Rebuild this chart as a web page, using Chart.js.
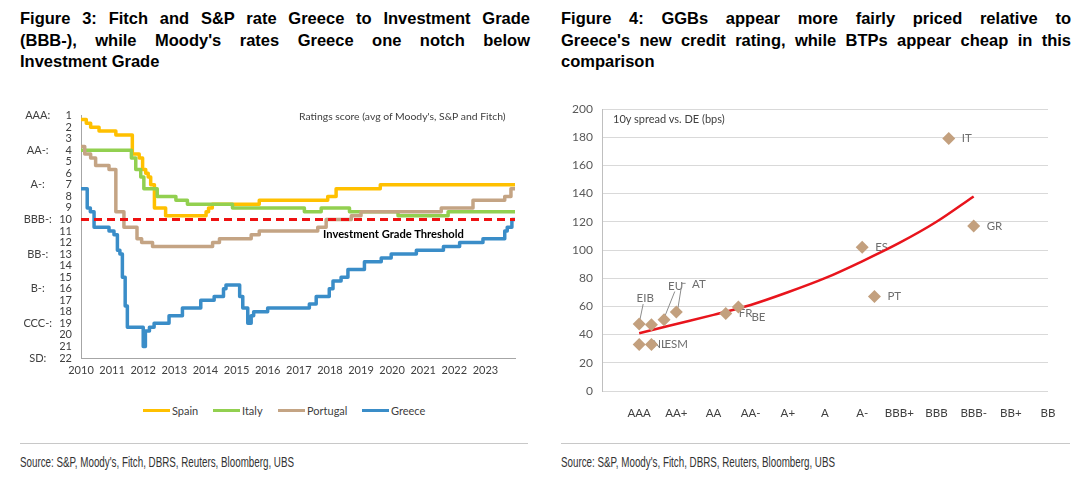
<!DOCTYPE html>
<html><head><meta charset="utf-8">
<script src="https://cdn.jsdelivr.net/npm/chart.js@4.4.0/dist/chart.umd.min.js"></script>
<style>
html,body{margin:0;padding:0;background:#fff;}
#page{position:relative;width:1089px;height:480px;overflow:hidden;font-family:Lato,"Liberation Sans",sans-serif;color:#404040;}
.title{position:absolute;top:8px;width:510px;font-family:"Liberation Sans",Arial,sans-serif;font-weight:bold;font-size:16.5px;line-height:21.5px;color:#000;}
.title .j{text-align:justify;text-align-last:justify;}
.abs{position:absolute;white-space:nowrap;}
.sep{position:absolute;top:443px;height:1px;background:#c8c8c8;}
.src{position:absolute;top:453px;font-family:"Liberation Sans",Arial,sans-serif;font-size:14px;line-height:18px;color:#333;white-space:nowrap;transform:scaleX(0.7);transform-origin:0 0;}
.sw{position:absolute;top:409px;width:27px;height:3px;}
.lt{position:absolute;top:403px;font-size:11px;line-height:15px;color:#404040;}
canvas{position:absolute;}
</style></head>
<body><div id="page">
<div class="title" style="left:20px">
<div class="j">Figure 3: Fitch and S&amp;P rate Greece to Investment Grade</div>
<div class="j">(BBB-), while Moody's rates Greece one notch below</div>
<div>Investment Grade</div>
</div>
<div class="title" style="left:561px">
<div class="j">Figure 4: GGBs appear more fairly priced relative to</div>
<div class="j">Greece's new credit rating, while BTPs appear cheap in this</div>
<div>comparison</div>
</div>

<canvas id="c1" width="545" height="300" style="left:0;top:100px"></canvas>
<canvas id="c2" width="544" height="340" style="left:545px;top:90px"></canvas>

<div class="abs" style="left:299px;top:109px;font-size:10.4px;line-height:14px;color:#404040">Ratings score (avg of Moody's, S&amp;P and Fitch)</div>
<div class="abs" style="left:323px;top:227px;font-size:11.2px;line-height:14px;font-weight:bold;color:#000">Investment Grade Threshold</div>
<div class="abs" style="left:613px;top:112px;font-size:11px;line-height:14px;color:#404040">10y spread vs. DE (bps)</div>

<div class="sw" style="left:143px;background:#FFC000"></div><div class="lt" style="left:172px">Spain</div>
<div class="sw" style="left:213px;background:#92D050"></div><div class="lt" style="left:242px">Italy</div>
<div class="sw" style="left:278px;background:#C4A484"></div><div class="lt" style="left:307px">Portugal</div>
<div class="sw" style="left:362px;background:#3A8DC8"></div><div class="lt" style="left:391px">Greece</div>

<div class="sep" style="left:20px;width:508px"></div>
<div class="sep" style="left:561px;width:509px"></div>
<div class="src" style="left:20px">Source: S&amp;P, Moody's, Fitch, DBRS, Reuters, Bloomberg, UBS</div>
<div class="src" style="left:561px">Source: S&amp;P, Moody's, Fitch, DBRS, Reuters, Bloomberg, UBS</div>
</div>
<script>
// ---------- Figure 3 data (decimal year of change, average rating score) ----------
const yearTicks = [2010,2011,2012,2013,2014,2015,2016,2017,2018,2019,2020,2021,2022,2023];
const scoreLetters = {1:'AAA:',4:'AA-:',7:'A-:',10:'BBB-:',13:'BB-:',16:'B-:',19:'CCC-:',22:'SD:'};

const spainT = [2010.00,2010.17,2010.31,2010.58,2011.12,2011.65,2011.87,2011.98,2012.08,2012.16,2012.24,2012.36,2012.72,2014.02,2014.10,2014.22,2015.73,2017.93,2018.20,2019.62,2023.95];
const spainS = [1.33,1.67,2.00,2.33,2.67,4.33,4.67,5.67,6.00,6.33,7.00,9.00,9.67,9.33,9.00,8.67,8.33,8.00,7.33,7.00,7.00];

const italyT = [2010.00,2011.62,2011.76,2011.92,2012.02,2012.45,2013.05,2013.42,2014.87,2017.18,2017.72,2018.63,2020.19,2021.80,2023.95];
const italyS = [4.00,4.67,5.67,6.33,7.33,8.00,8.33,8.67,9.00,9.33,9.00,9.33,9.67,9.33,9.33];

const portugalT = [2010.00,2010.12,2010.31,2010.47,2010.90,2011.12,2011.38,2011.80,2011.95,2012.30,2014.23,2014.45,2015.47,2015.73,2017.61,2017.88,2018.69,2019.00,2021.58,2022.60,2023.62,2023.82,2023.95];
const portugalS = [3.67,4.33,4.67,5.33,5.67,9.33,10.67,11.67,12.00,12.33,12.00,11.67,11.33,11.00,10.67,10.00,9.67,9.33,9.00,8.33,8.00,7.33,7.33];

const greeceT = [2010.00,2010.20,2010.30,2010.42,2010.90,2011.06,2011.17,2011.25,2011.33,2011.42,2011.49,2012.00,2012.07,2012.20,2012.35,2012.83,2013.26,2013.85,2014.28,2014.58,2014.66,2015.10,2015.20,2015.36,2015.47,2015.55,2016.00,2017.34,2017.56,2017.98,2018.10,2018.36,2018.58,2019.11,2019.65,2019.97,2020.78,2021.65,2022.17,2022.92,2023.62,2023.70,2023.85,2023.95];
const greeceS = [7.33,9.00,9.33,10.67,11.00,11.33,12.67,13.00,15.00,17.50,19.33,21.00,19.67,19.33,19.00,18.33,17.67,17.00,16.67,16.00,15.67,16.67,17.67,19.00,18.33,18.00,17.67,17.33,16.67,16.00,15.33,15.00,14.33,13.67,13.33,13.00,12.67,12.33,12.00,11.67,11.00,10.67,10.00,10.00];

const thresholdT = [2010, 2023.95];
const thresholdS = [10, 10];

// ---------- Figure 4 data ----------
const ratingCats = ['AAA','AA+','AA','AA-','A+','A','A-','BBB+','BBB','BBB-','BB+','BB'];
const issuerNames  = ['EIB','','NL','ESM','EU','AT','FR','BE','ES','PT','IT','GR'];
const issuerRating = [1.00,1.33,1.00,1.33,1.67,2.00,3.33,3.67,7.00,7.33,9.33,10.00];
const issuerSpread = [47.5,47,33,33,50.5,56,55,59.5,102,67,179,117];
const trendRating = [1,2,3,4,5,6,7,8,9,10];
const trendSpread = [41,47.5,54,61,70,80,92,105,120,138];

function pts(xs, ys){ return xs.map((x,i)=>({x:x, y:ys[i]})); }

Chart.defaults.font.family = "Lato, 'Liberation Sans', sans-serif";
Chart.defaults.animation = false;

function series(label, t, s, color, order){
  return {label, data: pts(t,s), borderColor: color, backgroundColor: color, borderWidth: 3.5,
          pointRadius: 0, stepped: true, fill: false, order, borderJoinStyle: 'round'};
}

new Chart(document.getElementById('c1'), {
  type: 'line',
  data: { datasets: [
    series('Spain', spainT, spainS, '#FFC000', 4),
    series('Italy', italyT, italyS, '#92D050', 3),
    series('Portugal', portugalT, portugalS, '#C4A484', 2),
    series('Greece', greeceT, greeceS, '#3A8DC8', 1),
    {label:'Threshold', data: pts(thresholdT, thresholdS), borderColor:'#EE1111', borderWidth:3,
     borderDash:[8,5], pointRadius:0, order:0, fill:false}
  ]},
  options: {
    responsive: false, devicePixelRatio: 1,
    layout: {padding: {left:10, right:30, top:14, bottom:20}},
    plugins: {legend:{display:false}, tooltip:{enabled:false}},
    scales: {
      x: {type:'linear', position:'bottom', min:2010, max:2023.95,
          afterBuildTicks: s => { s.ticks = yearTicks.map(v=>({value:v})); },
          ticks:{callback: v => String(v), padding:6, color:'#404040', font:{size:11}, maxRotation:0, autoSkip:false},
          grid:{display:false, drawTicks:false}, border:{display:true, color:'#A6A6A6', width:1},
          afterFit: s => { s.height = 22; }},
      y: {type:'linear', position:'left', reverse:true, min:1, max:22, weight:0,
          ticks:{stepSize:1, autoSkip:false, padding:9, color:'#404040', font:{size:11}},
          grid:{display:false, drawTicks:false}, border:{display:true, color:'#A6A6A6', width:1},
          afterFit: s => { s.width = 21; }},
      yl: {type:'linear', position:'left', reverse:true, min:1, max:22, weight:1,
          ticks:{stepSize:1, autoSkip:false, padding:8, crossAlign:'center', color:'#404040', font:{size:11},
                 callback: v => scoreLetters[v] || ''},
          grid:{display:false, drawTicks:false}, border:{display:false},
          afterFit: s => { s.width = 50; }}
    }
  }
});

const labelPlacement = {
  EIB:{dx:-2.6, dy:-25.7, leader:[[4,-20],[0.7,-4]]},
  EU:{dx:4, dy:-33.3, leader:[[10.7,-28.3],[0.7,-3.3]]},
  AT:{dx:15.6, dy:-27.3, leader:[[9.3,-28.7],[5.6,-28.7],[1.6,-3.7]]},
  BE:{dx:13, dy:10.4}
};

const issuerLabelPlugin = {
  id: 'issuerLabels',
  beforeDatasetsDraw(chart){
    const meta = chart.getDatasetMeta(0);
    const ctx = chart.ctx;
    ctx.save();
    ctx.font = "11.5px Lato, 'Liberation Sans', sans-serif";
    ctx.fillStyle = '#6E6E6E';
    ctx.strokeStyle = '#8C8C8C';
    ctx.lineWidth = 1;
    ctx.textAlign = 'left';
    ctx.textBaseline = 'middle';
    meta.data.forEach((el, i) => {
      const name = issuerNames[i];
      if (!name) return;
      const p = labelPlacement[name] || {dx:13, dy:0};
      if (p.leader) {
        ctx.beginPath();
        p.leader.forEach((q, k) => { const fn = k ? 'lineTo' : 'moveTo'; ctx[fn](el.x + q[0], el.y + q[1]); });
        ctx.stroke();
      }
      ctx.fillText(name, el.x + p.dx, el.y + p.dy);
    });
    ctx.restore();
  }
};

new Chart(document.getElementById('c2'), {
  type: 'scatter',
  data: { datasets: [
    {label:'Issuers', data: pts(issuerRating, issuerSpread), pointStyle:'rectRot', pointRadius:6.5,
     backgroundColor:'#C3A07E', borderColor:'#C3A07E', borderWidth:0, order:0},
    {type:'line', label:'Trend', data: pts(trendRating, trendSpread), borderColor:'#E8141C', borderWidth:2.5,
     pointRadius:0, cubicInterpolationMode:'monotone', fill:false, order:1}
  ]},
  options: {
    responsive: false, devicePixelRatio: 1,
    layout: {padding:{left:0, right:41, top:19, bottom:9}},
    plugins: {legend:{display:false}, tooltip:{enabled:false}},
    scales: {
      x: {type:'linear', min:0, max:12,
          ticks:{stepSize:1, autoSkip:false, maxRotation:0, padding:15, color:'#404040', font:{size:11.5},
                 callback: v => ratingCats[v-1] || ''},
          grid:{display:false, drawTicks:false}, border:{display:false},
          afterFit: s => { s.height = 30; }},
      y: {type:'linear', min:0, max:200,
          ticks:{stepSize:20, padding:9, color:'#595959', font:{size:12}},
          grid:{color:'#D9D9D9', lineWidth:1, drawTicks:false}, border:{display:true, color:'#BFBFBF', width:1},
          afterFit: s => { s.width = 57; }}
    }
  },
  plugins: [issuerLabelPlugin]
});
</script>
</body></html>
